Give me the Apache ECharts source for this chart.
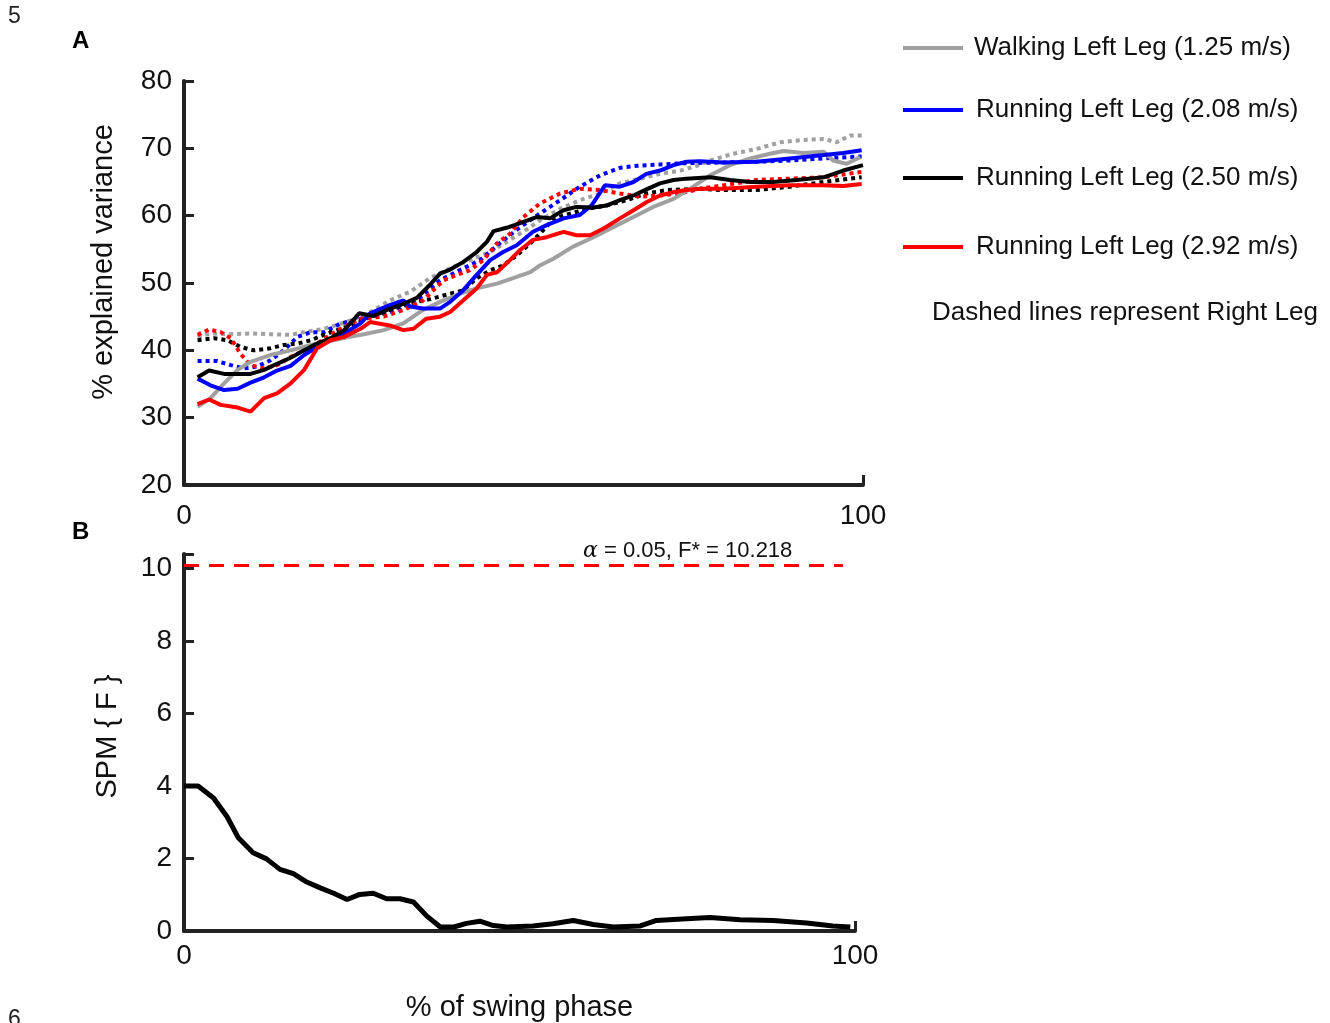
<!DOCTYPE html>
<html>
<head>
<meta charset="utf-8">
<script src="https://cdn.jsdelivr.net/npm/echarts@6/dist/echarts.min.js"></script>
<style>
  html, body { margin: 0; padding: 0; background: #fff; }
  #chart { width: 1330px; height: 1023px; }
</style>
</head>
<body>
<div id="chart"></div>
<script>
// % explained variance, [percent of swing phase, value]
const walkLeft = [[2,31.6],[3.9,32.9],[5.9,35.1],[7.9,37.1],[9.8,38.3],[12.7,39.3],[15.7,40.0],[18.7,40.8],[21.6,41.4],[24.4,42.0],[26.5,42.4],[29.4,43.0],[32.3,44.0],[35.2,46.0],[37.7,47.2],[40.6,48.4],[43.1,49.2],[46.1,49.9],[49.0,50.9],[51.0,51.6],[52.4,52.6],[54.4,53.6],[57.3,55.4],[60.3,56.8],[63.2,58.3],[66.2,59.8],[69.1,61.3],[72.1,62.5],[75.0,64.3],[77.5,66.0],[80.4,67.5],[83.4,68.5],[86.3,69.2],[88.3,69.6],[91.2,69.3],[94.2,69.5],[95.6,68.2],[97.6,67.7],[99.6,68.7]];
const run208Left = [[2,35.8],[3.9,34.8],[5.9,34.1],[7.9,34.3],[9.8,35.2],[11.8,36.0],[13.7,37.0],[15.7,37.7],[17.7,39.3],[19.6,40.5],[21.6,41.5],[23.6,42.5],[26.0,44.0],[27.4,45.5],[30.3,46.7],[32.3,47.4],[33.3,46.5],[35.2,46.2],[37.7,46.2],[39.2,47.2],[41.1,48.9],[43.1,51.2],[45.1,53.4],[47.0,54.6],[49.0,55.6],[51.4,57.6],[53.4,58.6],[55.9,59.6],[58.3,60.1],[60.0,61.5],[62.0,64.5],[64.2,64.3],[66.2,65.0],[68.1,66.2],[70.1,66.7],[72.1,67.5],[74.0,68.0],[76.0,68.1],[79.4,67.9],[84.3,68.0],[89.2,68.5],[94.2,69.0],[97.1,69.3],[99.8,69.7]];
const run250Left = [[2,36.0],[3.7,37.0],[5.9,36.5],[7.9,36.5],[9.8,36.5],[11.8,37.1],[13.7,38.0],[15.7,38.9],[17.7,40.0],[19.6,41.0],[21.6,41.8],[23.6,43.0],[25.8,45.5],[27.9,45.1],[29.9,46.0],[31.8,46.7],[34.3,47.8],[36.2,49.7],[37.7,51.4],[39.2,52.0],[41.1,53.1],[43.1,54.6],[44.6,56.1],[45.6,57.7],[47.5,58.2],[49.5,58.9],[51.9,59.8],[53.9,59.6],[55.9,60.8],[57.8,61.3],[60.3,61.2],[62.2,61.5],[64.2,62.3],[66.2,63.0],[68.1,63.9],[70.1,64.8],[72.1,65.3],[74.0,65.5],[77.5,65.7],[80.4,65.3],[83.4,65.0],[86.8,65.0],[90.2,65.3],[94.2,65.7],[97.1,66.7],[100,67.5]];
const run292Left = [[2,32.0],[3.7,32.7],[5.4,31.9],[7.9,31.5],[9.8,30.9],[11.8,32.9],[13.7,33.6],[15.7,35.1],[17.7,37.1],[19.6,40.3],[21.6,41.5],[23.6,42.0],[26.0,43.2],[27.4,44.2],[30.3,43.7],[32.3,43.0],[33.8,43.2],[35.7,44.7],[37.7,45.0],[39.2,45.7],[41.1,47.4],[43.1,49.2],[44.6,51.2],[46.1,51.6],[48.0,53.4],[49.5,54.9],[51.4,56.4],[53.4,56.8],[55.9,57.6],[57.8,57.1],[59.8,57.1],[61.8,58.1],[64.2,59.6],[66.2,60.8],[68.1,62.0],[70.1,63.0],[72.1,63.5],[74.0,63.8],[76.0,64.0],[79.4,64.0],[84.3,64.3],[89.2,64.5],[94.2,64.5],[97.1,64.4],[99.8,64.7]];
const walkRight = [[2,42.0],[3.9,42.5],[6.9,42.4],[9.8,42.5],[12.7,42.4],[15.7,42.3],[17.7,42.7],[20.6,43.2],[23.6,44.1],[26.5,45.2],[28.0,46.0],[30.3,47.4],[33.3,48.7],[36.2,50.7],[39.2,52.2],[42.1,53.4],[45.1,54.6],[48.0,56.4],[51.0,58.3],[52.4,59.3],[55.4,61.0],[58.3,62.3],[61.3,63.3],[64.2,64.8],[67.2,65.5],[70.1,66.2],[73.1,66.7],[75.5,67.4],[77.5,68.2],[80.9,69.2],[84.3,69.9],[87.8,70.9],[90.7,71.2],[94.2,71.4],[96.1,70.9],[98.1,71.9],[99.8,71.9]];
const run208Right = [[2,38.4],[4.9,38.4],[6.9,37.8],[8.8,37.3],[10.8,37.6],[12.7,38.5],[14.7,40.0],[16.7,42.0],[18.7,42.7],[20.6,42.7],[23.1,44.0],[26.0,44.7],[28.9,45.3],[31.8,46.1],[34.8,47.9],[37.7,50.4],[40.6,51.9],[43.6,53.4],[46.5,55.9],[49.5,58.3],[52.4,60.3],[55.4,62.3],[58.3,64.3],[61.3,66.0],[64.2,67.1],[66.7,67.4],[70.1,67.6],[74.0,67.8],[79.4,67.9],[84.3,68.0],[89.2,68.2],[94.2,68.5],[99.8,68.8]];
const run250Right = [[2,41.5],[4.4,41.8],[6.4,41.5],[8.3,40.5],[10.3,40.0],[12.7,40.3],[14.7,40.8],[16.7,41.0],[18.7,41.5],[20.6,42.3],[23.1,43.2],[25.5,44.0],[27.4,45.0],[30.3,46.0],[33.3,47.0],[36.2,47.6],[39.2,48.4],[41.1,48.9],[43.1,50.7],[45.1,51.9],[47.0,52.6],[49.0,54.1],[51.0,55.9],[52.4,57.3],[54.4,59.5],[56.5,60.2],[59.3,61.0],[62.2,61.5],[65.2,62.3],[68.1,63.3],[71.1,63.8],[76.0,64.0],[79.4,63.8],[84.3,63.8],[89.2,64.3],[94.2,65.0],[99.8,65.7]];
const run292Right = [[2,42.3],[3.7,43.1],[5.4,42.7],[6.9,41.8],[8.3,39.5],[9.8,37.8],[11.8,37.3],[13.7,37.8],[15.7,39.0],[17.7,40.0],[19.6,41.0],[21.6,42.3],[23.6,43.5],[26.0,44.7],[29.4,45.0],[32.3,46.0],[35.2,47.4],[38.2,50.4],[40.2,51.2],[42.1,51.9],[44.1,53.4],[46.1,55.9],[48.0,57.3],[50.0,59.8],[52.4,61.8],[55.4,63.3],[58.3,64.0],[61.3,63.8],[64.2,63.3],[67.2,62.8],[70.1,63.0],[73.1,63.3],[76.0,64.0],[79.4,64.5],[84.3,65.3],[89.2,65.5],[94.2,65.7],[99.8,66.5]];

// SPM{F} statistic and critical threshold
const spmF = [[0,4.0],[2.1,4.0],[4.4,3.67],[6.4,3.16],[8.1,2.57],[10.3,2.16],[12.3,1.99],[14.3,1.70],[16.3,1.58],[18.3,1.35],[20.3,1.19],[22.3,1.04],[24.3,0.87],[26.2,1.01],[28.2,1.04],[30.2,0.89],[32.2,0.89],[34.2,0.80],[36.2,0.41],[38.2,0.11],[40.2,0.11],[42.1,0.21],[44.1,0.27],[46.1,0.15],[48.1,0.11],[52,0.14],[55,0.2],[58,0.29],[61,0.18],[64,0.11],[68,0.14],[70.4,0.29],[74.9,0.34],[78.4,0.37],[82.9,0.31],[87.8,0.29],[92.8,0.22],[96.7,0.14],[99.3,0.11]];
const threshold = 10.1;
const thresholdEnd = 98.2;

const legendNames = ['Walking Left Leg (1.25 m/s)', 'Running Left Leg (2.08 m/s)', 'Running Left Leg (2.50 m/s)', 'Running Left Leg (2.92 m/s)'];
const legendTops = [30, 92, 160, 229];

const FONT = "'Liberation Sans', Arial, sans-serif";
const axisCol = '#222';

function leftSeries(name, color, data) {
  return {
    name: name, type: 'line', xAxisIndex: 0, yAxisIndex: 0,
    data: data, showSymbol: false, z: 3,
    lineStyle: { color: color, width: 4 }, itemStyle: { color: color }
  };
}
function rightSeries(name, color, data) {
  return {
    name: name, type: 'line', xAxisIndex: 0, yAxisIndex: 0,
    data: data, showSymbol: false, z: 2,
    lineStyle: { color: color, width: 4, type: [4, 4] }, itemStyle: { color: color }
  };
}

function valueAxis(gridIndex, min, max, interval) {
  return {
    type: 'value', gridIndex: gridIndex, min: min, max: max, interval: interval,
    axisLine: { show: true, lineStyle: { color: axisCol, width: 4 } },
    axisTick: { show: true, inside: true, length: 10, lineStyle: { color: axisCol, width: 3 } },
    splitLine: { show: false },
    axisLabel: { fontFamily: FONT, fontSize: 28, color: '#111', margin: 12 },
    nameTextStyle: { fontFamily: FONT, fontSize: 29, color: '#111' }
  };
}

const chart = echarts.init(document.getElementById('chart'));

const legends = legendNames.map((n, i) => ({
  data: [n], left: 898, top: legendTops[i], orient: 'vertical',
  icon: 'rect', itemWidth: 60, itemHeight: 4,
  textStyle: { fontFamily: FONT, fontSize: 26, color: '#111', padding: [0, 0, 0, i === 0 ? 6 : 8] },
  selectedMode: false
}));

const xTop = valueAxis(0, 0, 100, 100);
xTop.axisLabel.margin = 17;
const xBot = valueAxis(1, 0, 100, 100);
xBot.axisLabel.margin = 11;
xBot.name = '% of swing phase';
xBot.nameLocation = 'middle';
xBot.nameGap = 62;

const yTop = valueAxis(0, 20, 80, 10);
yTop.name = '% explained variance';
yTop.nameLocation = 'middle';
yTop.nameGap = 66;
yTop.nameTextStyle.padding = [0, 0, 0, 42];
const yBot = valueAxis(1, 0, 10.4, 2);
yBot.axisLabel.formatter = v => (v % 2 === 0 ? String(v) : '');
yBot.name = 'SPM { F }';
yBot.nameLocation = 'middle';
yBot.nameGap = 62;
yBot.nameTextStyle.padding = [0, 0, 0, 12];

const option = {
  backgroundColor: '#fff',
  animation: false,
  legend: legends,
  grid: [
    { left: 184, top: 81, width: 679, height: 404 },
    { left: 184, top: 554, width: 671, height: 378 }
  ],
  xAxis: [xTop, xBot],
  yAxis: [yTop, yBot],
  series: [
    leftSeries(legendNames[0], '#a0a0a0', walkLeft),
    leftSeries(legendNames[1], '#0000ff', run208Left),
    leftSeries(legendNames[2], '#000000', run250Left),
    leftSeries(legendNames[3], '#ff0000', run292Left),
    rightSeries('Walking Right Leg (1.25 m/s)', '#a0a0a0', walkRight),
    rightSeries('Running Right Leg (2.08 m/s)', '#0000ff', run208Right),
    rightSeries('Running Right Leg (2.50 m/s)', '#000000', run250Right),
    rightSeries('Running Right Leg (2.92 m/s)', '#ff0000', run292Right),
    {
      name: 'SPM{F}', type: 'line', xAxisIndex: 1, yAxisIndex: 1,
      data: spmF, showSymbol: false,
      lineStyle: { color: '#000', width: 5 },
      markLine: {
        silent: true, symbol: 'none', label: { show: false },
        lineStyle: { color: '#ff0000', width: 3, type: [15, 10] },
        data: [[{ coord: [0, threshold] }, { coord: [thresholdEnd, threshold] }]]
      }
    }
  ],
  graphic: [
    { type: 'text', left: 8, top: 5, style: { text: '5', fontFamily: FONT, fontSize: 23, fill: '#222' } },
    { type: 'text', left: 8, top: 1008, style: { text: '6', fontFamily: FONT, fontSize: 23, fill: '#222' } },
    { type: 'text', left: 72, top: 29, style: { text: 'A', fontFamily: FONT, fontSize: 24, fontWeight: 'bold', fill: '#000' } },
    { type: 'text', left: 72, top: 520, style: { text: 'B', fontFamily: FONT, fontSize: 24, fontWeight: 'bold', fill: '#000' } },
    { type: 'text', left: 932, top: 300, style: { text: 'Dashed lines represent Right Leg', fontFamily: FONT, fontSize: 26, fill: '#111' } },
    {
      type: 'text', left: 583, top: 540,
      style: {
        text: '{a|α} = 0.05, F* = 10.218',
        fontFamily: FONT, fontSize: 22, fill: '#111',
        rich: { a: { fontFamily: "'DejaVu Serif', serif", fontStyle: 'italic', fontSize: 22, fill: '#111' } }
      }
    }
  ]
};

chart.setOption(option);
</script>
</body>
</html>
